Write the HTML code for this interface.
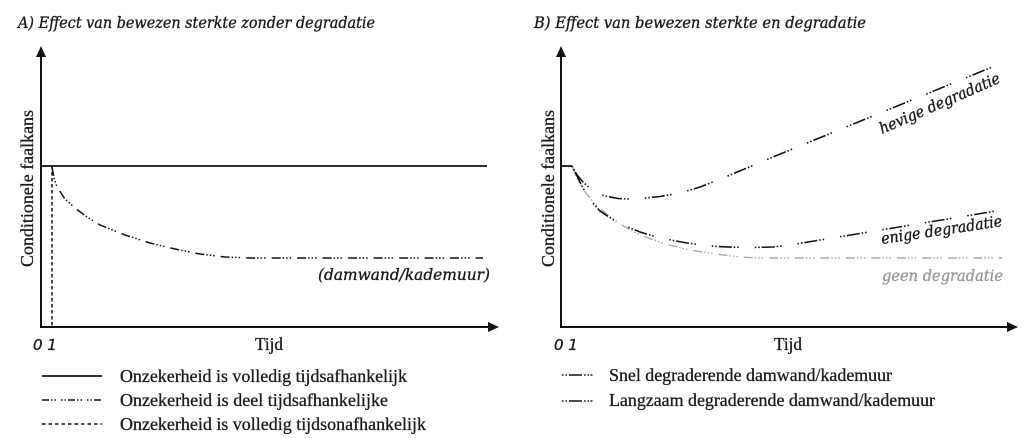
<!DOCTYPE html>
<html><head><meta charset="utf-8"><style>
html,body{margin:0;padding:0;background:#fff;}
svg{display:block;}
.t{font-family:"Liberation Serif",serif;fill:#1a1a1a;stroke:#1a1a1a;stroke-width:0.3;}
.i{font-family:"DejaVu Serif","Liberation Serif",serif;font-style:italic;fill:#1a1a1a;stroke:#1a1a1a;stroke-width:0.35;}
</style></head><body>
<svg width="1024" height="438" viewBox="0 0 1024 438" xmlns="http://www.w3.org/2000/svg">
<!-- Titles -->
<text class="i" x="18" y="28" font-size="16" textLength="357" lengthAdjust="spacingAndGlyphs">A) Effect van bewezen sterkte zonder degradatie</text>
<text class="i" x="534" y="28" font-size="16" textLength="332" lengthAdjust="spacingAndGlyphs">B)  Effect van bewezen sterkte en degradatie</text>

<!-- Axes -->
<g stroke="#111" stroke-width="2" fill="none">
<line x1="41" y1="55" x2="41" y2="327"/>
<line x1="40" y1="327" x2="490" y2="327"/>
<line x1="561" y1="55" x2="561" y2="327"/>
<line x1="560" y1="327" x2="1009" y2="327"/>
</g>
<polygon points="41,46 36,57 46,57" fill="#111"/>
<polygon points="499,327 488,322 488,332" fill="#111"/>
<polygon points="561,46 556,57 566,57" fill="#111"/>
<polygon points="1018,327 1007,322 1007,332" fill="#111"/>

<!-- Panel A series -->
<line x1="41" y1="166" x2="487" y2="166" stroke="#111" stroke-width="1.8"/>
<line x1="52" y1="166" x2="52" y2="327" stroke="#111" stroke-width="1.5" stroke-dasharray="3.5,2.5"/>
<polyline fill="none" stroke="#111" stroke-width="1.5" stroke-dasharray="9,2,1.5,2,1.5,2,1.5,6"
 points="52,167 54,178 57,187 65,199 75,208 87,217 100,225 125,235 150,243 175,249 200,254 225,257 250,258 483,258"/>
<text class="i" x="318" y="280" font-size="16" textLength="172" lengthAdjust="spacingAndGlyphs">(damwand/kademuur)</text>

<!-- Panel B series -->
<line x1="561" y1="166" x2="572" y2="166" stroke="#111" stroke-width="1.8"/>
<polyline fill="none" stroke="#aaa" stroke-width="1.4" stroke-dasharray="9,2,1.5,2,1.5,2,1.5,6"
 points="573,168 578,180 585,192 595,204 610,217 625,227 640,235 665,244 690,250 715,254 740,257 760,258 1002,258"/>
<polyline fill="none" stroke="#111" stroke-width="1.6" stroke-dasharray="1.5,2,1.5,2,13,2,1.5,2,1.5,16"
 points="572,166 577,176 583,188 590,200 600,211 612,219 623,225 640,232 660,238 687,243 710,246 727,247 750,247.5 773,247 790,245 1002,210"/>
<polyline fill="none" stroke="#111" stroke-width="1.6" stroke-dasharray="1.5,2,1.5,2,13,2,1.5,2,1.5,16"
 points="572,166 577,175 583,182 592,190 605,196 618,198.5 630,199 645,198 660,196.5 680,193 700,187 723,178 773,157 1002,63"/>
<text class="i" x="882" y="134" font-size="15.5" textLength="130" lengthAdjust="spacingAndGlyphs" transform="rotate(-23.5 882 134)">hevige degradatie</text>
<text class="i" x="882" y="244" font-size="15.5" textLength="122" lengthAdjust="spacingAndGlyphs" transform="rotate(-8.5 882 244)">enige degradatie</text>
<text class="i" x="882" y="281" font-size="15.5" textLength="121" lengthAdjust="spacingAndGlyphs" style="fill:#999;stroke:#999">geen degradatie</text>

<!-- Y labels -->
<text class="t" font-size="17.5" text-anchor="middle" textLength="157" lengthAdjust="spacingAndGlyphs" transform="translate(33 188.5) rotate(-90)">Conditionele faalkans</text>
<text class="t" font-size="17.5" text-anchor="middle" textLength="157" lengthAdjust="spacingAndGlyphs" transform="translate(554 188.5) rotate(-90)">Conditionele faalkans</text>

<!-- X labels -->
<text class="i" x="33" y="350" font-size="15" style="font-family:'DejaVu Sans','Liberation Sans',sans-serif">0 1</text>
<text class="t" x="255" y="350" font-size="17.5" textLength="28" lengthAdjust="spacingAndGlyphs">Tijd</text>
<text class="i" x="554" y="350" font-size="15" style="font-family:'DejaVu Sans','Liberation Sans',sans-serif">0 1</text>
<text class="t" x="774" y="350" font-size="17.5" textLength="28" lengthAdjust="spacingAndGlyphs">Tijd</text>

<!-- Legend A -->
<line x1="42" y1="376" x2="102" y2="376" stroke="#111" stroke-width="1.8"/>
<line x1="42" y1="400" x2="102" y2="400" stroke="#111" stroke-width="1.5" stroke-dasharray="7,2,1.5,2,1.5,5,1.5,2,1.5,2"/>
<line x1="42" y1="424" x2="102" y2="424" stroke="#111" stroke-width="1.5" stroke-dasharray="3.5,3"/>
<text class="t" x="120" y="382" font-size="17.5" textLength="287" lengthAdjust="spacingAndGlyphs">Onzekerheid is volledig tijdsafhankelijk</text>
<text class="t" x="120" y="406" font-size="17.5" textLength="268" lengthAdjust="spacingAndGlyphs">Onzekerheid is deel tijdsafhankelijke</text>
<text class="t" x="120" y="430" font-size="17.5" textLength="306" lengthAdjust="spacingAndGlyphs">Onzekerheid is volledig tijdsonafhankelijk</text>

<!-- Legend B -->
<line x1="562" y1="375" x2="594" y2="375" stroke="#111" stroke-width="1.6" stroke-dasharray="1.5,2,1.5,2,13,2,1.5,2,1.5"/>
<line x1="562" y1="401" x2="594" y2="401" stroke="#111" stroke-width="1.6" stroke-dasharray="1.5,2,1.5,2,13,2,1.5,2,1.5"/>
<text class="t" x="609" y="381" font-size="17.5" textLength="283" lengthAdjust="spacingAndGlyphs">Snel degraderende damwand/kademuur</text>
<text class="t" x="609" y="406" font-size="17.5" textLength="326" lengthAdjust="spacingAndGlyphs">Langzaam degraderende damwand/kademuur</text>
</svg>
</body></html>
